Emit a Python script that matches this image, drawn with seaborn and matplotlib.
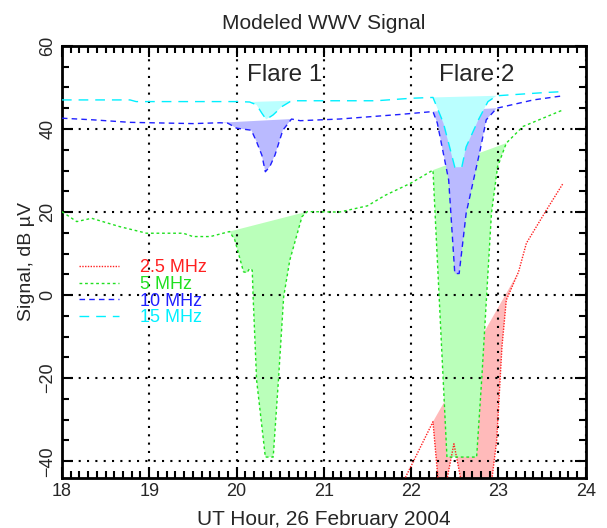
import numpy as np
import pandas as pd
import matplotlib
matplotlib.use("Agg")
import matplotlib.pyplot as plt
import seaborn as sns

# ---------------- data ----------------
t25 = [21.85, 22.25, 22.34, 22.49, 22.64, 22.88, 22.98, 23.04, 23.09, 23.23, 23.32, 23.55, 23.74]
v25 = [-47.5, -30.5, -52.0, -35.8, -52.0, -52.0, -35.0, -12.5, -1.2, 5.6, 12.5, 20.5, 26.9]

t5 = [18.0, 18.17, 18.34, 18.66, 18.97, 19.39, 19.5, 19.7, 19.92, 19.98, 20.08, 20.12,
      20.15, 20.18, 20.19, 20.23, 20.33, 20.42, 20.48, 20.54, 20.61, 20.75, 20.81,
      21.18, 21.5, 21.7, 21.87, 22.0, 22.25, 22.41, 22.75, 22.81, 22.92, 22.99, 23.09,
      23.28, 23.74]
v5 = [20.1, 17.7, 18.5, 16.5, 14.9, 14.9, 14.1, 14.1, 15.3, 13.3, 5.6, 5.4,
      6.4, 6.0, -0.4, -20.5, -39.0, -39.0, -20.5, -0.4, 8.4, 18.9, 20.1,
      20.0, 21.5, 24.0, 25.7, 27.0, 30.1, -39.0, -39.0, -19.7, 19.7, 30.9, 36.6,
      40.6, 44.6]

t10 = [18.0, 18.36, 18.78, 19.5, 19.81, 19.9, 20.0, 20.17, 20.23, 20.29, 20.33, 20.38,
       20.44, 20.53, 20.63, 20.73, 21.18, 21.87, 22.25, 22.3, 22.43, 22.5, 22.55, 22.63,
       22.79, 22.86, 22.98, 23.4, 23.74]
v10 = [42.6, 42.2, 41.6, 41.3, 41.5, 41.4, 40.2, 39.7, 36.9, 33.7, 29.7, 30.9,
       33.7, 39.7, 42.4, 42.0, 42.4, 43.5, 44.2, 41.4, 27.7, 5.2, 5.2, 19.7,
       34.9, 42.2, 45.0, 47.0, 48.0]

t15 = [18.0, 18.78, 18.85, 20.0, 20.15, 20.23, 20.29, 20.34, 20.42, 20.52, 20.63, 21.6,
       22.0, 22.25, 22.37, 22.44, 22.5, 22.58, 22.63, 22.77, 22.88, 22.98, 23.55, 23.74]
v15 = [47.0, 47.0, 46.6, 46.6, 46.5, 45.8, 43.8, 42.3, 43.4, 45.4, 46.8, 46.8,
       47.4, 47.6, 41.4, 35.7, 30.8, 30.8, 35.7, 42.2, 46.6, 48.0, 48.8, 49.0]

labels = ["2.5 MHz", "5 MHz", "10 MHz", "15 MHz"]
# shaded flare windows (start, end hour) per series
fills25 = [(22.25, 23.23)]
fills5 = [(19.92, 20.81), (22.25, 23.09)]
fills10 = [(19.81, 20.63), (22.25, 22.98)]
fills15 = [(20.15, 20.63), (22.25, 22.98)]

xticks = [18, 19, 20, 21, 22, 23, 24]
yticks = [-40, -20, 0, 20, 40, 60]

# ---------------- style ----------------
sns.set_theme(style="ticks")
plt.rcParams['font.family'] = ['Liberation Sans', 'DejaVu Sans']

line_cols = ["#ff2020", "#20e020", "#2020ff", "#00f0ff"]
fill_cols = ["#ffbaba", "#baffba", "#babaff", "#baffff"]
styles = [(0, (1, 1)), (0, (2, 2)), (0, (4, 3)), (0, (7, 5))]

fig = plt.figure(figsize=(6.07, 5.28), dpi=100)
ax = fig.add_axes([0.102, 0.095, 0.863, 0.818])

series = [(t25, v25, fills25), (t5, v5, fills5), (t10, v10, fills10), (t15, v15, fills15)]

for k, (t, v, fl) in enumerate(series):
    ta = np.array(t)
    va = np.array(v)
    for (a, b) in fl:
        m = (ta >= a - 1e-9) & (ta <= b + 1e-9)
        ax.fill(ta[m], va[m], color=fill_cols[k], lw=0, zorder=1 + k)

for k, (t, v, fl) in enumerate(series):
    df = pd.DataFrame({"t": t, "v": v})
    sns.lineplot(data=df, x="t", y="v", ax=ax, sort=False, estimator=None,
                 color=line_cols[k], lw=1.0, linestyle=styles[k], label=labels[k],
                 zorder=10)

ax.set_xlim(18, 24)
ax.set_ylim(-44, 60)
ax.set_xticks(xticks)
ax.set_yticks(yticks)
ax.set_xticks(np.arange(18, 24.001, 0.1), minor=True)
ax.set_yticks(np.arange(-40, 60.001, 5), minor=True)
ax.grid(True, which="major", color="black", linestyle=(0, (1, 3)), lw=1.5, zorder=5)
ax.set_axisbelow(False)
ax.tick_params(which="both", direction="in", top=True, right=True, color="black", width=1.5)
ax.tick_params(which="major", length=8, labelsize=13, pad=4)
ax.tick_params(which="minor", length=5)
for lab in ax.get_yticklabels():
    lab.set_rotation(90)
    lab.set_va("center")
for s in ax.spines.values():
    s.set_linewidth(2)
    s.set_color("black")

ax.set_xlabel("UT Hour, 26 February 2004", fontsize=15, labelpad=7)
ax.set_ylabel("Signal, dB µV", fontsize=14, labelpad=3)
ax.set_title("Modeled WWV Signal", fontsize=15, pad=12)

ax.text(20.55, 53.0, "Flare 1", fontsize=17.5, ha="center", va="center", zorder=20)
ax.text(22.75, 53.0, "Flare 2", fontsize=17.5, ha="center", va="center", zorder=20)

leg = ax.legend(loc="upper left", bbox_to_anchor=(-0.008, 0.556), frameon=False,
                fontsize=13, handlelength=2.2, handletextpad=1.15, labelspacing=-0.02,
                borderaxespad=0.8)
for txt, c in zip(leg.get_texts(), line_cols):
    txt.set_color(c)

fig.savefig("out.png", dpi=100)
